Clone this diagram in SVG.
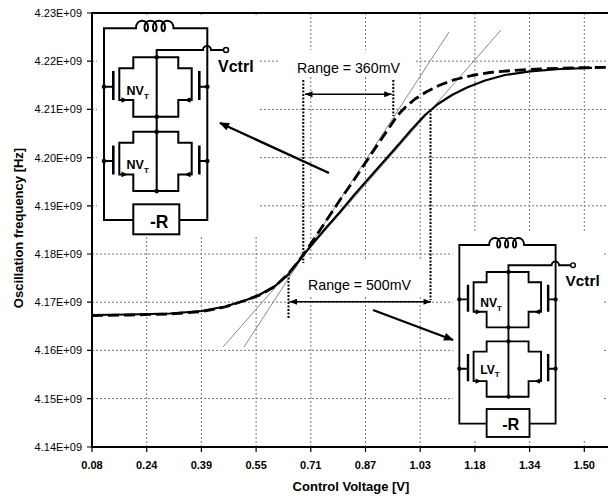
<svg xmlns="http://www.w3.org/2000/svg" xmlns:xlink="http://www.w3.org/1999/xlink" width="608" height="497" viewBox="0 0 608 497">
<style>
.grid{stroke:#777;stroke-width:1;stroke-dasharray:2 2;fill:none}
.axis{stroke:#000;stroke-width:2;fill:none}
.tick{stroke:#000;stroke-width:1.2}
.ylab{font-family:"Liberation Sans",Arial,sans-serif;font-size:11px;text-anchor:end;fill:#000}
.xlab{font-family:"Liberation Sans",Arial,sans-serif;font-size:11px;font-weight:bold;text-anchor:middle;fill:#000}
.title{font-family:"Liberation Sans",Arial,sans-serif;font-size:13px;font-weight:bold;text-anchor:middle;fill:#000}
.tan{stroke:#8a8a8a;stroke-width:1;fill:none}
.solid{stroke:#000;stroke-width:2.2;fill:none;stroke-linejoin:round}
.dash{stroke:#000;stroke-width:2.8;fill:none;stroke-dasharray:11 5;stroke-linejoin:round}
.hdot{stroke:#000;stroke-width:2;stroke-dasharray:2 1.5;fill:none}
.wire{stroke:#000;stroke-width:2;fill:none}
.plate{stroke:#000;stroke-width:2.6;fill:none}
.dot{fill:#000}
.ann{font-family:"Liberation Sans",Arial,sans-serif;font-size:14.2px;fill:#000}
.cl{font-family:"Liberation Sans",Arial,sans-serif;font-weight:bold;fill:#000}
.dbl{stroke:#000;stroke-width:1.6;fill:none}
.ptr{stroke:#000;stroke-width:2.4;fill:none}
</style>
<defs>
<marker id="ah" viewBox="0 0 10 8" refX="10" refY="4" markerWidth="8" markerHeight="6" markerUnits="userSpaceOnUse" orient="auto-start-reverse">
<path d="M0,0 L10,4 L0,8 Z" fill="#000"/>
</marker>
<marker id="ph" viewBox="0 0 10 8" refX="9" refY="4" markerWidth="11" markerHeight="8" markerUnits="userSpaceOnUse" orient="auto">
<path d="M0,0 L10,4 L0,8 Z" fill="#000"/>
</marker>
<g id="pair">
<path class="wire" d="M133.3,57.3 H178.3 V68.3 H191.7 V100 H178.3 V116.7 H133.3 V100 H119.3 V68.3 H133.3 Z"/>
<path class="plate" d="M113.3,71 V100 M199.3,71 V100"/>
<path class="wire" d="M104,86.7 H113.3 M199.3,86.7 H207.3"/>
<circle class="dot" cx="104" cy="86.7" r="2.3"/>
<circle class="dot" cx="207.3" cy="86.7" r="2.3"/>
<circle class="dot" cx="156.7" cy="57.3" r="2.3"/>
<circle class="dot" cx="156.7" cy="116.7" r="2.3"/>
<path class="dot" d="M121.5,97.2 L127.5,100 L121.5,102.8 Z M190.5,97.2 L184.5,100 L190.5,102.8 Z"/>
</g>
<g id="circ">
<rect x="97" y="15" width="162" height="222" fill="#fff"/>
<path class="wire" d="M133.3,220 H104 V28.3 H136 C136,18.5 148,18.5 148,27 C148,32.5 144.5,32.5 144.5,27 C144.5,18.5 156.5,18.5 156.5,27 C156.5,32.5 153,32.5 153,27 C153,18.5 165,18.5 165,27 C165,32.5 161.5,32.5 161.5,27 C161.5,18.5 173.5,18.5 173.5,28.3 H207.3 V220 H179.3"/>
<rect class="wire" x="133.3" y="204.3" width="46" height="30"/>
<path class="wire" d="M156.7,191.1 V50 H203 A4,4 0 0 1 211,50 H223.5"/>
<circle cx="226" cy="50" r="2.5" fill="#fff" stroke="#000" stroke-width="1.5"/>
<use xlink:href="#pair"/>
<use xlink:href="#pair" transform="translate(0,74.4)"/>
</g>
</defs>

<g id="grid">
<path class="grid" d="M146.7,13V447 M201.4,13V447 M256.1,13V447 M310.8,13V447 M365.5,13V447 M420.2,13V447 M474.9,13V447 M529.6,13V447 M584.3,13V447"/>
<path class="grid" d="M92,61.2H608 M92,109.4H608 M92,157.6H608 M92,205.8H608 M92,254H608 M92,302.2H608 M92,350.4H608 M92,398.6H608"/>
</g>

<g id="axes">
<path class="axis" d="M608,13 H92 V447 H608"/>
<path class="tick" d="M87,13H92 M87,61.2H92 M87,109.4H92 M87,157.6H92 M87,205.8H92 M87,254H92 M87,302.2H92 M87,350.4H92 M87,398.6H92 M87,447H92"/>
<path class="tick" d="M92,447V452 M146.7,447V452 M201.4,447V452 M256.1,447V452 M310.8,447V452 M365.5,447V452 M420.2,447V452 M474.9,447V452 M529.6,447V452 M584.3,447V452"/>
<text class="ylab" x="82" y="17">4.23E+09</text>
<text class="ylab" x="82" y="65.2">4.22E+09</text>
<text class="ylab" x="82" y="113.4">4.21E+09</text>
<text class="ylab" x="82" y="161.6">4.20E+09</text>
<text class="ylab" x="82" y="209.8">4.19E+09</text>
<text class="ylab" x="82" y="258">4.18E+09</text>
<text class="ylab" x="82" y="306.2">4.17E+09</text>
<text class="ylab" x="82" y="354.4">4.16E+09</text>
<text class="ylab" x="82" y="402.6">4.15E+09</text>
<text class="ylab" x="82" y="451">4.14E+09</text>
<text class="xlab" x="92" y="469">0.08</text>
<text class="xlab" x="146.7" y="469">0.24</text>
<text class="xlab" x="201.4" y="469">0.39</text>
<text class="xlab" x="256.1" y="469">0.55</text>
<text class="xlab" x="310.8" y="469">0.71</text>
<text class="xlab" x="365.5" y="469">0.87</text>
<text class="xlab" x="420.2" y="469">1.03</text>
<text class="xlab" x="474.9" y="469">1.18</text>
<text class="xlab" x="529.6" y="469">1.34</text>
<text class="xlab" x="584.3" y="469">1.50</text>
<text class="title" x="351" y="491">Control Voltage [V]</text>
<text class="title" transform="translate(23,228) rotate(-90)">Oscillation frequency [Hz]</text>
</g>

<g id="tangents">
<path class="tan" d="M223,347 L501,30"/>
<path class="tan" d="M244,347 L449,32"/>
</g>

<g id="curves">
<polyline class="solid" points="92,315 130,314.5 170,313.5 202,311 225,306.5 245,300.5 260,294.5 275,286 288,275 298,262 310,247 325,229 340,212 355,194 370,177 385,160 400,143 412,129 425,115 438,104 452,95 467,87.5 485,80.5 505,75 530,71.3 560,69 592,67.8"/>
<polyline class="dash" points="92,315.5 130,315 170,314 202,311.5 225,307 245,300.5 260,295 275,286.5 288,274 298,262 306,251 318,233 330,215 342,197 354,180 366,162 378,144 389,128 397,116 405,107.5 415,99 427,91.5 440,85 455,79.5 472,75.5 490,72.5 515,70.3 545,68.8 575,67.8 608,67.3"/>
</g>

<g id="circuit1">
<use xlink:href="#circ"/>
<text class="cl" x="218" y="72" font-size="16">Vctrl</text>
<text class="cl" x="126.5" y="95" font-size="12.5">NV<tspan font-size="8" dy="4">T</tspan></text>
<text class="cl" x="126.5" y="169.4" font-size="12.5">NV<tspan font-size="8" dy="4">T</tspan></text>
<text class="cl" x="150" y="228.3" font-size="17.5">-R</text>
</g>

<g id="circuit2" transform="translate(362.4,218.6) scale(0.932)">
<use xlink:href="#circ"/>
<text class="cl" x="218" y="72" font-size="16.5">Vctrl</text>
<text class="cl" x="126.5" y="95" font-size="13">NV<tspan font-size="8.5" dy="4">T</tspan></text>
<text class="cl" x="126.5" y="166.5" font-size="13">LV<tspan font-size="8.5" dy="4">T</tspan></text>
<text class="cl" x="150" y="227" font-size="17.5">-R</text>
</g>

<g id="range360">
<rect x="280" y="50" width="134" height="25" fill="#fff"/>
<text class="ann" x="297" y="73">Range = 360mV</text>
<path class="hdot" d="M303.3,80 V263 M393.3,80 V116"/>
</g>

<g id="range500">
<rect x="305" y="259" width="127" height="37" fill="#fff"/>
<text class="ann" x="308" y="290">Range = 500mV</text>
<path class="hdot" d="M288.5,274 V318 M430.5,110 V300"/>
</g>

<g id="connectors">
<path class="dbl" d="M305,94.3 H391.7" marker-start="url(#ah)" marker-end="url(#ah)"/>
<path class="dbl" d="M289.5,301.7 H431" marker-start="url(#ah)" marker-end="url(#ah)"/>
<path class="ptr" d="M329,173 L220,123" marker-end="url(#ph)"/>
<path class="ptr" d="M373,310 L453,340" marker-end="url(#ph)"/>
</g>
</svg>
